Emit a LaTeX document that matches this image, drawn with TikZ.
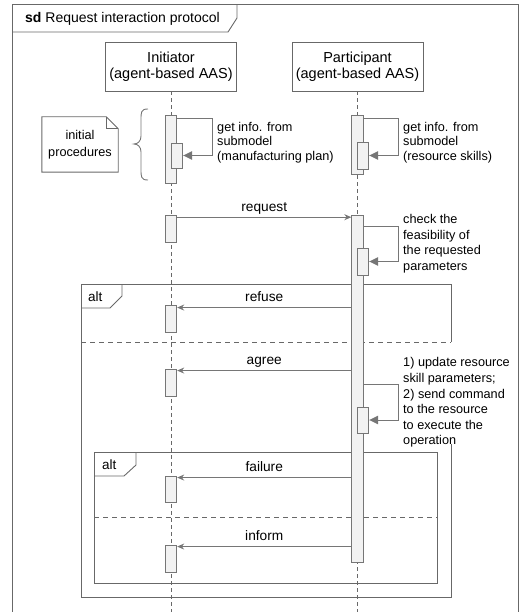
\documentclass[tikz,border=0pt]{standalone}
\usepackage{fontspec}
\setmainfont{Liberation Sans}
\usetikzlibrary{arrows.meta}
\definecolor{framegray}{HTML}{686868}
\definecolor{linegray}{HTML}{767676}
\definecolor{actfill}{HTML}{F2F2F2}

\begin{document}
\begin{tikzpicture}[x=1pt,y=-1pt,
  every node/.style={font=\fontsize{12.7}{15.5}\selectfont},
  lifebox/.style={draw=framegray, line width=0.9pt, minimum width=131pt,
    minimum height=49pt, align=center, inner sep=0pt,
    font=\fontsize{14.5}{16}\selectfont},
  lifeline/.style={draw=framegray, line width=0.9pt, dash pattern=on 4pt off 3pt},
  act/.style={draw=linegray, fill=actfill, line width=0.9pt,
    minimum width=11.5pt, inner sep=0pt},
  msg/.style={draw=linegray, line width=0.9pt, -{Stealth[length=7pt,width=6pt]}},
  selfmsg/.style={draw=linegray, line width=0.9pt, -{Triangle[length=9pt,width=8.5pt]}},
  frameline/.style={draw=framegray, line width=0.9pt},
  divider/.style={draw=framegray, line width=0.9pt, dash pattern=on 5pt off 4pt},
  comment/.style={align=left, anchor=north west, inner sep=0pt},
  msglabel/.style={midway, anchor=base, yshift=6pt, inner sep=0pt,
    font=\fontsize{13.7}{16}\selectfont},
  fraglabel/.style={anchor=base west, inner sep=0pt, font=\fontsize{13.5}{16}\selectfont},
]
\useasboundingbox (0,0) rectangle (519,612);

% outer sequence-diagram frame with its title tab
\draw[frameline] (12,612) -- (12,4.5) -- (518,4.5) -- (518,612);
\draw[frameline] (12,32) -- (228,32) -- (237,18) -- (237,4.5);
\node[anchor=base west, inner sep=0pt, font=\fontsize{14}{16}\selectfont] (title) at (25,22.5)
  {\textbf{sd} Request interaction protocol};

% lifeline heads
\node[lifebox] (ini) at (171,66.5) {Initiator\\(agent-based AAS)};
\node[lifebox] (par) at (357.5,66.5) {Participant\\(agent-based AAS)};

% lifelines
\coordinate (iniend) at (171,612);
\coordinate (parend) at (357.5,612);
\draw[lifeline] (ini.south) -- (iniend);
\draw[lifeline] (par.south) -- (parend);

% note and brace for the initial procedures
\node[align=center, minimum width=76pt, minimum height=55pt, inner sep=0pt] (note) at (80,144.5)
  {initial\\[1.5pt]procedures};
\draw[frameline] (note.north west) -- ([xshift=-12pt]note.north east)
  -- ([yshift=-12pt]note.north east) -- (note.south east) -- (note.south west) -- cycle;
\draw[frameline] ([xshift=-12pt]note.north east) -- ([xshift=-12pt,yshift=-12pt]note.north east)
  -- ([yshift=-12pt]note.north east);
\draw[frameline, draw=linegray] (148,109) .. controls (141,109) and (141,112) .. (141,120)
  -- (141,136) .. controls (141,141) and (138,144) .. (134,144)
  .. controls (138,144) and (141,147) .. (141,152)
  -- (141,169) .. controls (141,177) and (141,180) .. (148,180);

% combined fragments
\draw[frameline] (451,444) -- (451,597) -- (81,597) -- (81,284) -- (451,284) -- (451,342);
\draw[frameline] (81,308) -- (110,308) -- (122,296) -- (122,284);
\node[fraglabel] (alt1) at (88,301.5) {alt};
\draw[divider] (81,342) -- (451,342);

\draw[frameline] (94,452) rectangle (437,583);
\draw[frameline] (94,476) -- (124,476) -- (136,465) -- (136,452);
\node[fraglabel] (alt2) at (102,469.5) {alt};
\draw[divider] (94,517) -- (437,517);

% activations
\node[act, minimum height=68pt] (i1) at (171,149) {};
\node[act, minimum height=25pt] (i1n) at (177,155.5) {};
\node[act, minimum height=59pt] (p1) at (357.5,144.5) {};
\node[act, minimum height=27pt] (p1n) at (363,155.5) {};
\node[act, minimum height=26.3pt] (i2) at (171,228.8) {};
\node[act, minimum height=346.3pt] (p2) at (357.5,388.85) {};
\node[act, minimum height=27pt] (p2n) at (363,261.5) {};
\node[act, minimum height=26pt] (p2m) at (363,420) {};
\node[act, minimum height=27pt] (i3) at (171,318.5) {};
\node[act, minimum height=27pt] (i4) at (171,382.5) {};
\node[act, minimum height=26pt] (i5) at (171,489) {};
\node[act, minimum height=27pt] (i6) at (171,558.5) {};

% self messages
\draw[selfmsg] ([yshift=-4pt]i1.north east) -- ++(35,0) |- (i1n.east);
\draw[selfmsg] ([yshift=-4pt]p1.north east) -- ++(35,0) |- (p1n.east);
\coordinate (chk) at (363,226);
\draw[selfmsg] (chk) -- ++(35,0) |- (p2n.east);
\coordinate (upd) at (363,384);
\draw[selfmsg] (upd) -- ++(35,0) |- (p2m.east);

\node[comment, font=\fontsize{12.7}{14.5}\selectfont] (c1) at (217,122)
  {get info. from\\submodel\\(manufacturing plan)};
\node[comment, font=\fontsize{12.7}{14.5}\selectfont] (c2) at (403,122)
  {get info. from\\submodel\\(resource skills)};
\node[comment, font=\fontsize{12.7}{15.7}\selectfont] (c3) at (403,214)
  {check the\\feasibility of\\the requested\\parameters};
\node[comment, font=\fontsize{12.7}{15.6}\selectfont] (c4) at (403,357.5)
  {1) update resource\\skill parameters;\\2) send command\\to the resource\\to execute the\\operation};

% messages between the lifelines
\coordinate (m1) at ([yshift=-2pt]i2.north east);
\draw[msg] (m1) -- node[msglabel] {request} (m1 -| p2.west);
\coordinate (m2) at ([yshift=-3pt]i3.north east);
\draw[msg] (m2 -| p2.west) -- node[msglabel] {refuse} (m2);
\coordinate (m3) at ([yshift=-2pt]i4.north east);
\draw[msg] (m3 -| p2.west) -- node[msglabel] {agree} (m3);
\coordinate (m4) at ([yshift=-2pt]i5.north east);
\draw[msg] (m4 -| p2.west) -- node[msglabel] {failure} (m4);
\coordinate (m5) at ([yshift=-2pt]i6.north east);
\draw[msg] (m5 -| p2.west) -- node[msglabel] {inform} (m5);

\end{tikzpicture}
\end{document}
